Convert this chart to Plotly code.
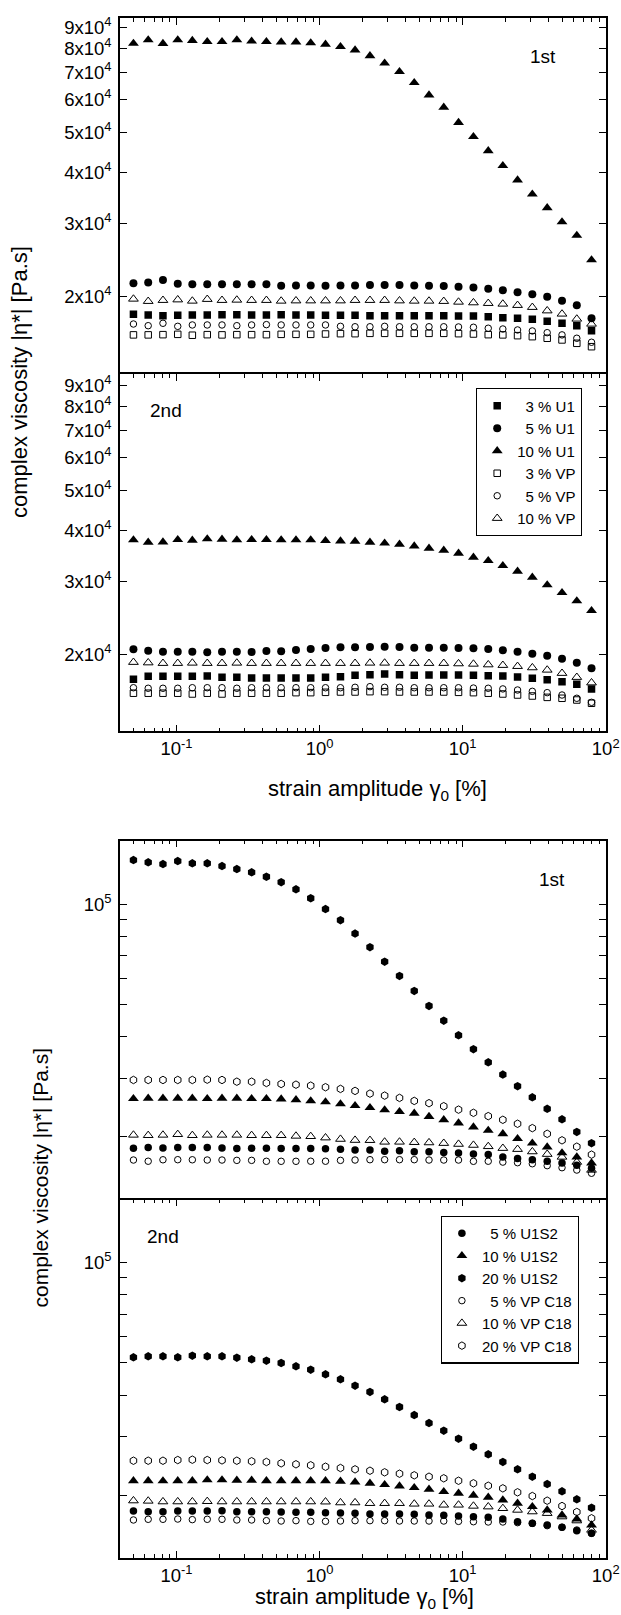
import plotly.graph_objects as go

# ---------------- data ----------------
STRAIN = [0.05, 0.0634, 0.0804, 0.102, 0.129, 0.164, 0.208, 0.264, 0.335, 0.425,
          0.539, 0.684, 0.867, 1.1, 1.4, 1.77, 2.25, 2.85, 3.62, 4.59,
          5.82, 7.38, 9.36, 11.9, 15.1, 19.1, 24.2, 30.7, 39.0, 49.5, 62.8, 79.6]

# Figure A, 1st run
A1_U1_3 = [18080, 18020, 17950, 17980, 18020, 18020, 18040, 18040, 18020, 18020, 18040, 18020, 18020, 17980, 17980, 17980,
           17950, 17950, 17950, 17950, 17950, 17950, 17910, 17910, 17850, 17750, 17690, 17590, 17390, 17200, 16970, 16500]
A1_U1_5 = [21500, 21600, 21900, 21450, 21400, 21400, 21400, 21400, 21400, 21400, 21200, 21250, 21250, 21200, 21250, 21250,
           21300, 21300, 21300, 21250, 21200, 21180, 21100, 21000, 20860, 20680, 20450, 20220, 19960, 19500, 19020, 17690]
A1_U1_10 = [82200, 83800, 82100, 83800, 83500, 83000, 83000, 83800, 83200, 83000, 82800, 82800, 82400, 81800, 80700, 79200,
            76700, 73600, 70200, 66000, 61600, 57500, 52800, 48800, 45100, 41500, 38300, 35400, 32800, 30300, 28100, 24500]
A1_VP_3 = [16120, 16120, 16140, 16170, 16090, 16140, 16120, 16140, 16140, 16140, 16170, 16170, 16170, 16200, 16230, 16230,
           16260, 16260, 16260, 16260, 16260, 16260, 16230, 16200, 16140, 16120, 16050, 15960, 15820, 15670, 15380, 15090]
A1_VP_5 = [17130, 16970, 17200, 16910, 17040, 17040, 17040, 16970, 17040, 17070, 17040, 17040, 17040, 17040, 16910, 16870,
           16870, 16910, 16870, 16870, 16870, 16870, 16850, 16820, 16730, 16660, 16570, 16480, 16320, 16120, 15820, 15470]
A1_VP_10 = [19700, 19450, 19560, 19620, 19480, 19670, 19560, 19590, 19560, 19560, 19480, 19510, 19510, 19510, 19510, 19560,
            19560, 19560, 19510, 19480, 19480, 19450, 19370, 19300, 19230, 19160, 19020, 18810, 18450, 18120, 17620, 17130]

# Figure A, 2nd run
A2_U1_3 = [17390, 17690, 17690, 17690, 17690, 17720, 17590, 17590, 17520, 17520, 17520, 17520, 17520, 17590, 17650, 17790,
           17850, 17910, 17850, 17790, 17820, 17820, 17820, 17790, 17750, 17720, 17620, 17490, 17350, 17160, 16910, 16480]
A2_U1_5 = [20570, 20410, 20290, 20290, 20290, 20220, 20290, 20290, 20260, 20370, 20340, 20490, 20600, 20720, 20800, 20800,
           20830, 20870, 20830, 20750, 20750, 20750, 20720, 20680, 20600, 20450, 20290, 20060, 19840, 19510, 19080, 18500]
A2_U1_10 = [37900, 37400, 37460, 37950, 37820, 38100, 38030, 37900, 37950, 37950, 37900, 37900, 37900, 37730, 37670, 37610,
            37400, 37200, 36980, 36630, 36170, 35760, 35160, 34380, 33740, 32810, 31800, 30750, 29460, 28220, 26940, 25520]
A2_VP_3 = [16090, 16090, 16090, 16090, 16020, 16090, 16020, 16090, 16090, 16090, 16090, 16140, 16140, 16170, 16200, 16200,
           16230, 16230, 16200, 16200, 16200, 16200, 16170, 16140, 16090, 16020, 15930, 15840, 15720, 15640, 15490, 15210]
A2_VP_5 = [16590, 16540, 16540, 16540, 16590, 16590, 16590, 16540, 16590, 16590, 16590, 16590, 16590, 16590, 16590, 16630,
           16690, 16630, 16630, 16590, 16590, 16590, 16590, 16560, 16540, 16480, 16380, 16260, 16140, 15930, 15640, 15290]
A2_VP_10 = [19130, 19080, 19020, 19020, 19050, 19020, 19020, 19050, 19020, 19020, 19020, 19020, 19020, 19020, 19020, 19020,
            19050, 19050, 19020, 19020, 19020, 19020, 18980, 18940, 18870, 18810, 18700, 18560, 18320, 17990, 17590, 17060]

# Figure B, 1st run
B1_S_5 = [18500, 18580, 18540, 18580, 18580, 18580, 18540, 18460, 18500, 18500, 18460, 18460, 18460, 18420, 18370, 18260,
          18260, 18130, 18170, 18070, 18070, 17960, 17910, 17780, 17700, 17410, 17230, 17090, 16900, 16710, 16450, 16110]
B1_S_10 = [26050, 26130, 26130, 26130, 26130, 26050, 26130, 26130, 26050, 26050, 26000, 25860, 25660, 25480, 25120, 24830,
           24490, 24100, 23810, 23550, 23030, 22520, 22020, 21420, 20930, 20440, 19760, 19150, 18650, 17910, 17410, 16690]
B1_S_20 = [135700, 133600, 132000, 134800, 132700, 132700, 130200, 127500, 124700, 120900, 116400, 110800, 104200, 96700,
           89500, 81600, 74300, 67200, 60900, 54900, 49500, 44700, 40400, 36700, 33500, 30800, 28400, 26300, 24300, 22600,
           20700, 19150]
B1_C_5 = [17050, 16910, 17080, 17090, 17080, 17050, 17050, 17010, 17010, 16900, 16900, 16900, 16910, 16910, 17010, 17050,
          17090, 17090, 17090, 17090, 17050, 17050, 17050, 16900, 16910, 16810, 16740, 16620, 16400, 16170, 15910, 15560]
B1_C_10 = [20270, 20220, 20270, 20360, 20220, 20270, 20270, 20270, 20220, 20220, 20220, 20130, 20080, 19890, 19700, 19560,
           19540, 19320, 19320, 19270, 19230, 19150, 19030, 18900, 18730, 18500, 18370, 18070, 17750, 17410, 16810, 15910]
B1_C_20 = [29660, 29660, 29660, 29660, 29660, 29720, 29660, 29310, 29310, 29050, 28850, 28710, 28520, 28210, 27880, 27500,
           26990, 26620, 26200, 25660, 25260, 24740, 24160, 23630, 23100, 22520, 21910, 21260, 20440, 19540, 18700, 17700]

# Figure B, 2nd run
B2_S_5 = [17960, 17880, 17880, 17960, 17960, 17960, 18000, 17880, 17880, 17880, 17840, 17800, 17800, 17750, 17720, 17680,
          17590, 17590, 17590, 17550, 17470, 17430, 17350, 17270, 17200, 16990, 16680, 16490, 16300, 16050, 15670, 15390]
B2_S_10 = [22140, 22140, 22110, 22140, 22140, 22260, 22260, 22210, 22210, 22140, 22140, 22140, 22140, 22140, 22060, 21950,
           21750, 21540, 21350, 21100, 20870, 20520, 20300, 20020, 19750, 19380, 18940, 18500, 18080, 17470, 16990, 16300]
B2_S_20 = [51980, 52340, 52340, 51980, 52560, 52340, 52340, 51850, 51280, 50790, 49980, 48850, 47720, 46230, 44650, 42730,
           40910, 38890, 36870, 34880, 33000, 31290, 29610, 28020, 26580, 25210, 23960, 22770, 21640, 20580, 19480, 18370]
B2_C_5 = [16880, 16960, 16960, 16990, 16920, 16960, 16960, 16880, 16880, 16800, 16760, 16800, 16720, 16720, 16760, 16800,
          16800, 16800, 16760, 16760, 16760, 16760, 16720, 16680, 16650, 16650, 16570, 16490, 16230, 16050, 15750, 15390]
B2_C_10 = [19290, 19250, 19160, 19160, 19160, 19200, 19160, 19160, 19160, 19160, 19160, 19160, 19160, 19140, 19030, 19030,
           18940, 18940, 18940, 18860, 18860, 18730, 18730, 18590, 18500, 18290, 18080, 17880, 17680, 17270, 16800, 15750]
B2_C_20 = [25430, 25430, 25430, 25550, 25610, 25550, 25490, 25430, 25330, 25210, 24980, 24810, 24640, 24400, 24180, 23960,
           23730, 23470, 23250, 22990, 22770, 22520, 22140, 21750, 21390, 21010, 20440, 19920, 19290, 18590, 17840, 17080]

NAMES_A = ["\u00a0\u00a03 % U1", "\u00a0\u00a05 % U1", "10 % U1", "\u00a0\u00a03 % VP", "\u00a0\u00a05 % VP", "10 % VP"]
NAMES_B = ["\u00a0\u00a05 % U1S2", "10 % U1S2", "20 % U1S2", "\u00a0\u00a05 % VP C18", "10 % VP C18", "20 % VP C18"]

X_TICKS = [0.1, 1, 10, 100]
X_TICKTEXT = ["10<sup>-1</sup>", "10<sup>0</sup>", "10<sup>1</sup>", "10<sup>2</sup>"]
X_MINOR = [0.05, 0.06, 0.07, 0.08, 0.09, 0.2, 0.3, 0.4, 0.5, 0.6, 0.7, 0.8, 0.9,
           2, 3, 4, 5, 6, 7, 8, 9, 20, 30, 40, 50, 60, 70, 80, 90]
YA_TICKS = [20000, 30000, 40000, 50000, 60000, 70000, 80000, 90000]
YA_TICKTEXT = ["2x10<sup>4</sup>", "3x10<sup>4</sup>", "4x10<sup>4</sup>", "5x10<sup>4</sup>",
               "6x10<sup>4</sup>", "7x10<sup>4</sup>", "8x10<sup>4</sup>", "9x10<sup>4</sup>"]
YB_TICKS = [100000]
YB_TICKTEXT = ["10<sup>5</sup>"]
YB_UNLABELED = [20000, 30000, 40000, 50000, 60000, 70000, 80000, 90000]

# ---------------- layout helpers ----------------
W, H = 621, 1615
FONT = "Liberation Sans, Arial, Helvetica, sans-serif"


def fx(p):
    return p / W


def fy(p):
    return 1 - p / H


XDOM = [fx(120), fx(605.7)]
PANELS = {  # pixel top, bottom
    1: (18.3, 374.3),
    2: (374.3, 731.3),
    3: (840.5, 1199.5),
    4: (1199.5, 1558.0),
}
YRANGES = {1: [4.1117, 4.9758], 2: [4.1141, 4.9806], 3: [4.1132, 5.1913], 4: [4.1132, 5.1898]}

fig = go.Figure()


def add(panel, y, name, symbol, size, legend, show):
    suffix = "" if panel == 1 else str(panel)
    is_open = symbol.endswith("open")
    fig.add_trace(go.Scatter(
        x=STRAIN, y=y, mode="markers", name=name,
        xaxis="x" + suffix, yaxis="y" + suffix,
        marker=dict(symbol=symbol, size=size, color="black",
                    line=dict(color="black", width=1 if is_open else 0)),
        showlegend=show, legend=legend,
    ))


SYM_A = [("square", 7.5), ("circle", 8), ("triangle-up", 9.5),
         ("square-open", 6.5), ("circle-open", 6.5), ("triangle-up-open", 8.5)]
SYM_B = [("circle", 7.5), ("triangle-up", 9.5), ("hexagon", 8.5),
         ("circle-open", 6.5), ("triangle-up-open", 8.5), ("hexagon-open", 7.5)]

for ys, (sym, sz), nm in zip([A1_U1_3, A1_U1_5, A1_U1_10, A1_VP_3, A1_VP_5, A1_VP_10], SYM_A, NAMES_A):
    add(1, ys, nm, sym, sz, "legend", False)
for ys, (sym, sz), nm in zip([A2_U1_3, A2_U1_5, A2_U1_10, A2_VP_3, A2_VP_5, A2_VP_10], SYM_A, NAMES_A):
    add(2, ys, nm, sym, sz, "legend", True)
for ys, (sym, sz), nm in zip([B1_S_5, B1_S_10, B1_S_20, B1_C_5, B1_C_10, B1_C_20], SYM_B, NAMES_B):
    add(3, ys, nm, sym, sz, "legend2", False)
for ys, (sym, sz), nm in zip([B2_S_5, B2_S_10, B2_S_20, B2_C_5, B2_C_10, B2_C_20], SYM_B, NAMES_B):
    add(4, ys, nm, sym, sz, "legend2", True)

LINE_W = 1.6
axis_common = dict(showline=True, linecolor="black", linewidth=LINE_W, showgrid=False, zeroline=False,
                   ticks="inside", tickcolor="black", tickwidth=1.4, ticklen=7, automargin=False,
                   tickfont=dict(family=FONT, size=18.5, color="black"))

layout = dict(
    width=W, height=H, margin=dict(l=0, r=0, t=0, b=0, autoexpand=False),
    paper_bgcolor="white", plot_bgcolor="white",
    font=dict(family=FONT, size=16, color="black"),
)

for p in (1, 2, 3, 4):
    suffix = "" if p == 1 else str(p)
    top, bot = PANELS[p]
    xa = dict(axis_common)
    xa.update(type="log", range=[-1.395, 2.0], domain=XDOM, anchor="y" + suffix,
              tickmode="array", tickvals=X_TICKS, ticktext=X_TICKTEXT,
              minor=dict(tickmode="array", tickvals=X_MINOR, ticks="inside", ticklen=4,
                         tickcolor="black", tickwidth=1.1, showgrid=False))
    if p in (1, 3):
        # upper panel: only its top edge carries ticks; the shared edge is drawn by the lower panel
        xa.update(side="top", mirror=False, showticklabels=False)
    else:
        xa.update(side="bottom", mirror="ticks", showticklabels=True)
    ya = dict(axis_common)
    ya.update(type="log", range=YRANGES[p], domain=[fy(bot), fy(top)], anchor="x" + suffix,
              mirror="ticks", tickmode="array", ticklabelstandoff=3)
    if p in (1, 2):
        ya.update(tickvals=YA_TICKS, ticktext=YA_TICKTEXT)
    else:
        ya.update(tickvals=YB_TICKS, ticktext=YB_TICKTEXT,
                  minor=dict(tickmode="array", tickvals=YB_UNLABELED, ticks="inside", ticklen=7,
                             tickcolor="black", tickwidth=1.4, showgrid=False))
    layout["xaxis" + suffix] = xa
    layout["yaxis" + suffix] = ya

legend_common = dict(xanchor="left", yanchor="top", bordercolor="black", borderwidth=1.2,
                     bgcolor="white", font=dict(family=FONT, size=15, color="black"),
                     tracegroupgap=0, itemsizing="trace")
layout["legend"] = dict(legend_common, x=fx(476), y=fy(388.3))
layout["legend2"] = dict(legend_common, x=fx(440.7), y=fy(1215.7))

ann = []


def text(x, y, s, size=19, angle=0):
    ann.append(dict(x=fx(x), y=fy(y), xref="paper", yref="paper", text=s, showarrow=False,
                    xanchor="center", yanchor="middle", textangle=angle,
                    font=dict(family=FONT, size=size, color="black")))


text(543, 57, "1st")
text(165.5, 410, "2nd")
text(552, 880, "1st")
text(162.5, 1236.7, "2nd")
YTITLE = "complex viscosity |\u03b7*| [Pa.s]"
XTITLE = "strain amplitude \u03b3<sub>0</sub> [%]"
text(20, 382, YTITLE, size=22, angle=-90)
text(40, 1177.5, YTITLE, size=21, angle=-90)
text(377, 790, XTITLE, size=22)
text(365, 1598, XTITLE, size=22)
layout["annotations"] = ann

fig.update_layout(**layout)
fig.write_html("out.html")
